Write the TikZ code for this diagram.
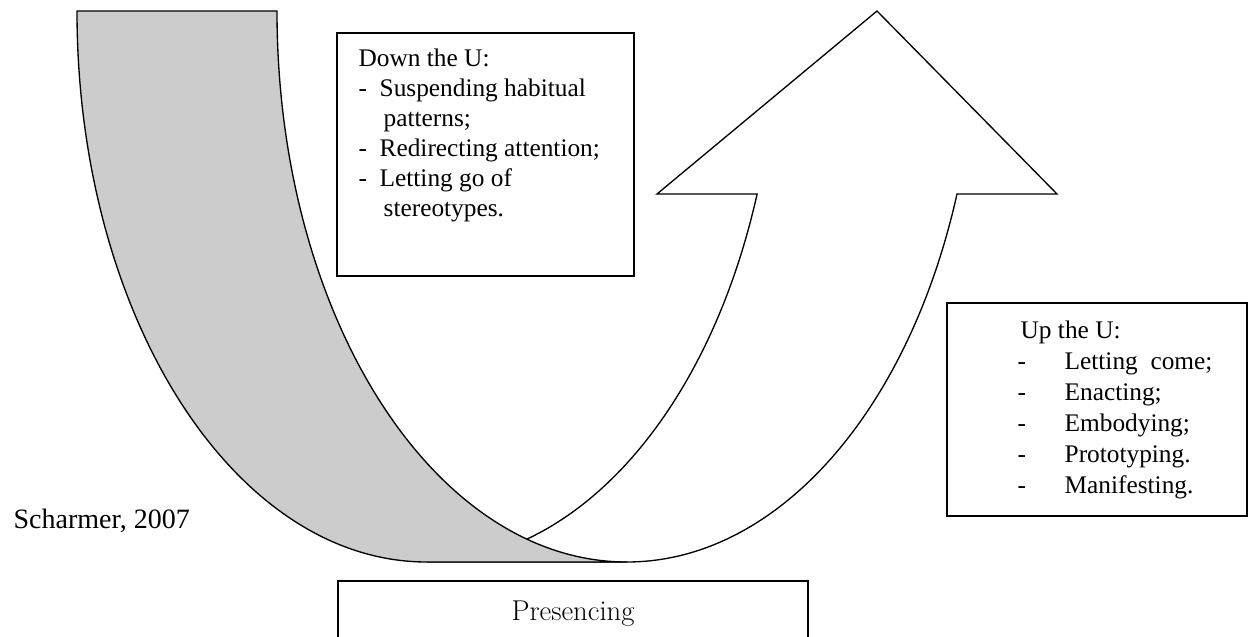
\documentclass[tikz,border=0pt]{standalone}
\usepackage{fontspec}
\newfontfamily\tnr{Liberation Serif}
\definecolor{ugray}{RGB}{204,204,204}
\begin{document}
\begin{tikzpicture}[x=0.75pt,y=-0.75pt,line width=1pt,
  ushape/.style={draw=black,line join=miter},
  textbox/.style={draw=black,line width=1pt},
  txt/.style={anchor=base west,inner sep=0pt,font=\tnr\fontsize{19}{22}\selectfont},
  srctxt/.style={anchor=base west,inner sep=0pt,font=\tnr\fontsize{21}{24}\selectfont},
  ptxt/.style={anchor=base,inner sep=0pt,font=\fontsize{21.5}{25}\selectfont}]
\useasboundingbox (0,0) rectangle (1252,636);
\clip (0,0) rectangle (1252,636);
% white upward arrow (right half of the U)
\path[ushape,fill=white] (427,562)
  arc[start angle=90,end angle=19.4,x radius=350,y radius=551]
  -- (657,194) -- (877,11) -- (1057,194) -- (957,194)
  arc[start angle=19.4,end angle=90,x radius=350,y radius=551]
  -- cycle;
% grey downward band (left half of the U)
\path[ushape,fill=ugray] (77,11) -- (277,11)
  arc[start angle=180,end angle=90,x radius=350,y radius=551]
  -- (427,562)
  arc[start angle=90,end angle=180,x radius=350,y radius=551]
  -- cycle;
% box: down the U
\draw[textbox] (337,33) rectangle (634,276);
\node[txt] (d0) at (358,66) {Down the U:};
\node[txt] (d1a) at (358,96) {-};
\node[txt] (d1) at (379,96) {Suspending habitual};
\node[txt] (d1b) at (383,126) {patterns;};
\node[txt] (d2a) at (358,156) {-};
\node[txt] (d2) at (379,156) {Redirecting attention;};
\node[txt] (d3a) at (358,186) {-};
\node[txt] (d3) at (379,186) {Letting go of};
\node[txt] (d3b) at (383,216) {stereotypes.};
% box: up the U
\draw[textbox] (947,303) rectangle (1247,516);
\node[txt] (u0) at (1020,338) {Up the U:};
\node[txt] (u1a) at (1017,369) {-};
\node[txt] (u1) at (1064,369) {Letting~ come;};
\node[txt] (u2a) at (1017,400) {-};
\node[txt] (u2) at (1064,400) {Enacting;};
\node[txt] (u3a) at (1017,431) {-};
\node[txt] (u3) at (1064,431) {Embodying;};
\node[txt] (u4a) at (1017,462) {-};
\node[txt] (u4) at (1064,462) {Prototyping.};
\node[txt] (u5a) at (1017,493) {-};
\node[txt] (u5) at (1064,493) {Manifesting.};
% source
\node[srctxt] (src) at (13,528) {Scharmer, 2007};
% presencing box
\draw[textbox] (338,581) rectangle (808,660);
\node[ptxt] (pres) at (573,620) {Presencing};
\end{tikzpicture}
\end{document}
